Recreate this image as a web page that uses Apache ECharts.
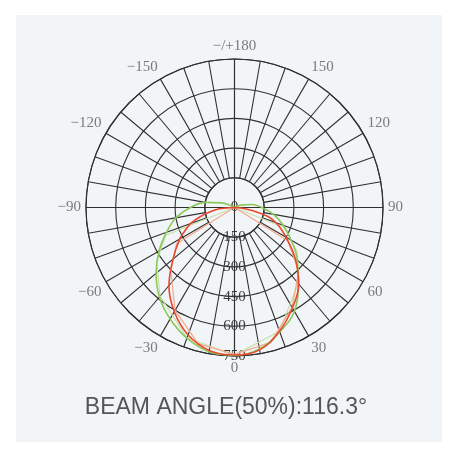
<!DOCTYPE html>
<html>
<head>
<meta charset="utf-8">
<script src="https://cdn.jsdelivr.net/npm/echarts@6/dist/echarts.min.js"></script>
<style>
html,body{margin:0;padding:0;background:#fff;}
#c{width:458px;height:458px;}
</style>
</head>
<body>
<div id="c"></div>
<script>
// ---- data ----
const titleText = 'BEAM ANGLE(50%):116.3°';
const angleTicks = [-180, -150, -120, -90, -60, -30, 0, 30, 60, 90, 120, 150];
const angleTickLabels = ['−/+180', '−150', '−120', '−90', '−60', '−30', '0', '30', '60', '90', '120', '150'];
const radiusTicks = [0, 150, 300, 450, 600, 750];

const redAngles = [-90, -85, -80, -75, -70, -65, -60, -50, -40, -30, -20, -10, 0, 10, 20, 30, 40, 50, 60, 65, 70, 75, 80, 85, 90];
const redValues = [0, 75, 125, 180, 235, 275, 320, 405, 515, 608, 685, 733, 745, 730, 665, 585, 505, 400, 300, 260, 222, 175, 90, 40, 0];

const greenAngles = [-120, -115, -110, -100, -90, -80, -70, -60, -50, -40, -30, -20, -10, 0, 10, 20, 30, 40, 50, 60, 70, 80, 90, 100, 110, 118];
const greenValues = [0, 35, 68, 148, 222, 300, 365, 440, 517, 590, 650, 702, 740, 748, 725, 668, 605, 500, 415, 330, 262, 200, 138, 88, 35, 0];

const orangeAngles = [-90, -58, -45, -30, -15, 0, 15, 30, 45, 58, 90];
const orangeValues = [0, 345, 455, 600, 712, 742, 705, 582, 458, 320, 0];

const lightGreenAngles = [-95, -68, -55, -40, -20, 0, 20, 40, 55, 68, 95];
const lightGreenValues = [0, 375, 480, 585, 700, 746, 665, 500, 385, 270, 0];

// angle for polar with 0..360 range (0 at bottom)
function toPts(angles, values) {
  return angles.map((a, i) => [values[i], a < 0 ? a + 360 : a]);
}

const CX = 234.5, CY = 207.5, R = 148.5, RIN = R / 5;
const gridColor = '#303030';
const serif = '"Liberation Serif", "DejaVu Serif", serif';

const chart = echarts.init(document.getElementById('c'), null, {renderer: 'canvas'});
chart.setOption({
  animation: false,
  backgroundColor: 'transparent',
  title: {
    text: titleText,
    left: 226, top: 396, textAlign: 'center', padding: 0,
    textStyle: {fontFamily: '"Liberation Sans", Arial, sans-serif', fontSize: 23, fontWeight: 'normal', color: '#555'}
  },
  graphic: [{
    type: 'rect', z: -10, silent: true,
    shape: {x: 16, y: 15, width: 426, height: 427},
    style: {fill: '#f2f5f8'}
  }],
  polar: [
    {center: [CX, CY], radius: [RIN, R]},
    {center: [CX, CY], radius: [0, R]}
  ],
  angleAxis: [
    {
      polarIndex: 0, type: 'value', min: -180, max: 180, interval: 10,
      startAngle: 90, clockwise: false,
      axisLine: {show: true, lineStyle: {color: gridColor, width: 1.1}},
      axisTick: {show: false},
      splitLine: {show: true, lineStyle: {color: gridColor, width: 1.1}},
      axisLabel: {
        show: true, margin: 5, color: '#7a7a7a', fontFamily: serif, fontSize: 15,
        formatter: function (v) {
          const i = angleTicks.indexOf(v);
          return i >= 0 ? angleTickLabels[i] : '';
        }
      }
    },
    {
      polarIndex: 1, type: 'value', min: 0, max: 360, interval: 90,
      startAngle: 270, clockwise: false,
      axisLine: {show: false},
      axisTick: {show: false},
      axisLabel: {show: false},
      splitLine: {show: true, lineStyle: {color: gridColor, width: 1.1}}
    }
  ],
  radiusAxis: [
    {polarIndex: 0, type: 'value', min: 0, max: 1, show: false,
     axisLine: {show: false}, axisLabel: {show: false}, splitLine: {show: false}, axisTick: {show: false}},
    {
      polarIndex: 1, type: 'value', min: radiusTicks[0], max: radiusTicks[radiusTicks.length - 1], interval: 150,
      axisLine: {show: false},
      axisTick: {show: false},
      splitLine: {show: true, lineStyle: {color: gridColor, width: 1.1}},
      axisLabel: {
        show: true, margin: 0, align: 'center', verticalAlign: 'middle',
        color: '#3a3a3a', fontFamily: serif, fontSize: 15
      }
    }
  ],
  series: [
    {type: 'line', coordinateSystem: 'polar', polarIndex: 1, data: toPts(lightGreenAngles, lightGreenValues),
     showSymbol: false, smooth: false, lineStyle: {color: '#c4e0a8', width: 1.2}, z: 3},
    {type: 'line', coordinateSystem: 'polar', polarIndex: 1, data: toPts(orangeAngles, orangeValues),
     showSymbol: false, smooth: false, lineStyle: {color: '#f4a98e', width: 1.2}, z: 3},
    {type: 'line', coordinateSystem: 'polar', polarIndex: 1, data: toPts(greenAngles, greenValues),
     showSymbol: false, smooth: 0.4, lineStyle: {color: '#8cc85a', width: 1.6}, z: 4},
    {type: 'line', coordinateSystem: 'polar', polarIndex: 1, data: toPts(redAngles, redValues),
     showSymbol: false, smooth: 0.4, lineStyle: {color: '#e8492e', width: 1.6}, z: 5}
  ]
});
</script>
</body>
</html>
